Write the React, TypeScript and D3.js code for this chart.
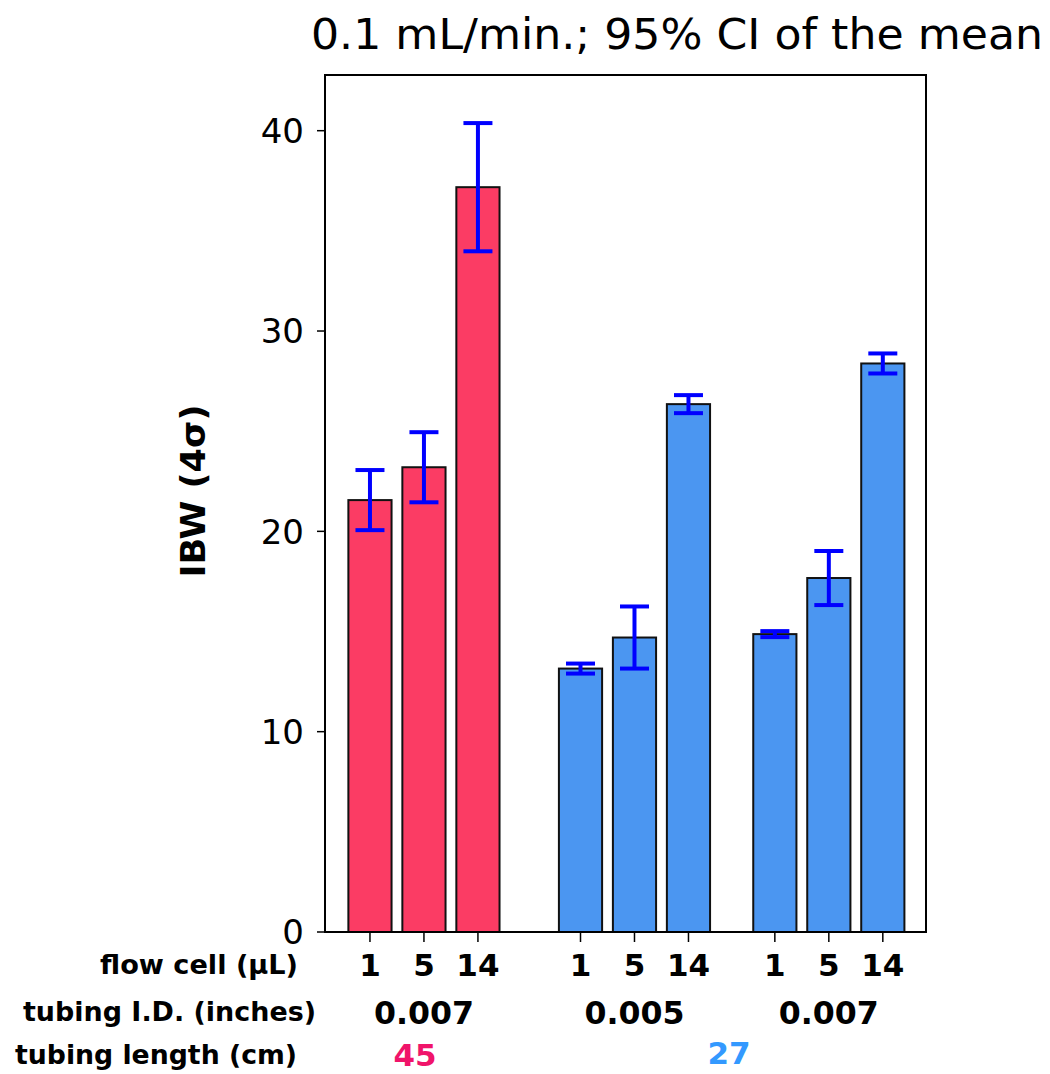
import React from "react";
import * as d3 from "d3";

// flow cell volumes (µL) per group
const flowCells = ["1", "5", "14"];
const tubingIDs = ["0.007", "0.005", "0.007"];
const tubingLengths = ["45", "27"];

// IBW (4σ) means and 95% CI half widths, one array per group
const means = [
  [21.56, 23.2, 37.18],
  [13.15, 14.7, 26.35],
  [14.87, 17.67, 28.38],
];
const ciHalf = [
  [1.5, 1.75, 3.2],
  [0.25, 1.55, 0.45],
  [0.15, 1.35, 0.5],
];
const yTicks = [0, 10, 20, 30, 40];

const title = "0.1 mL/min.; 95% CI of the mean";
const yLabel = "IBW (4σ)";

const groupColors = ["#fb3c64", "#4b96f1", "#4b96f1"];
const lengthColors = ["#f0146a", "#3399ff"];
// where each group starts along the x slot axis (groups are not evenly spaced)
const groupStart = [0, 3.9, 7.5];

const width = 1050;
const height = 1074;
const plot = { left: 325, right: 926, top: 75, bottom: 932 };
const font = "'DejaVu Sans', Verdana, sans-serif";

const App = () => {
  const x = d3.scaleLinear().domain([-0.833, 10.3]).range([plot.left, plot.right]);
  const y = d3.scaleLinear().domain([0, 42.78]).range([plot.bottom, plot.top]);
  const barW = x(0.8) - x(0);
  const capW = 29;

  const bars = means.flatMap((grp, g) =>
    grp.map((v, i) => ({
      g,
      i,
      v,
      ci: ciHalf[g][i],
      pos: groupStart[g] + i,
    }))
  );

  const groupCenter = (g) => x(groupStart[g] + 1);

  return (
    <svg
      width={width}
      height={height}
      style={{ position: "absolute", left: 0, top: 0, background: "#fff" }}
      fontFamily={font}
    >
      <text x={1043} y={49} textAnchor="end" fontSize={43} fill="#000" textLength={732} lengthAdjust="spacingAndGlyphs">
        {title}
      </text>

      {/* bars */}
      {bars.map((d) => (
        <rect
          key={`b${d.g}-${d.i}`}
          x={x(d.pos) - barW / 2}
          y={y(d.v)}
          width={barW}
          height={y(0) - y(d.v)}
          fill={groupColors[d.g]}
          stroke="#111"
          strokeWidth={2}
        />
      ))}

      {/* error bars */}
      {bars.map((d) => {
        const cx = x(d.pos);
        const hi = y(d.v + d.ci);
        const lo = y(d.v - d.ci);
        return (
          <g key={`e${d.g}-${d.i}`} stroke="#0000ff" strokeWidth={4}>
            <line x1={cx} x2={cx} y1={hi} y2={lo} />
            <line x1={cx - capW / 2} x2={cx + capW / 2} y1={hi} y2={hi} />
            <line x1={cx - capW / 2} x2={cx + capW / 2} y1={lo} y2={lo} />
          </g>
        );
      })}

      {/* frame */}
      <rect
        x={plot.left}
        y={plot.top}
        width={plot.right - plot.left}
        height={plot.bottom - plot.top}
        fill="none"
        stroke="#000"
        strokeWidth={2}
      />

      {/* y axis ticks */}
      {yTicks.map((t) => (
        <g key={`yt${t}`}>
          <line x1={plot.left - 8} x2={plot.left} y1={y(t)} y2={y(t)} stroke="#000" strokeWidth={1.5} />
          <text x={304} y={y(t)} dy="0.36em" textAnchor="end" fontSize={34} fill="#000">
            {t}
          </text>
        </g>
      ))}

      <text
        transform={`translate(205,${491}) rotate(-90)`}
        textAnchor="middle"
        fontSize={33}
        fontWeight="bold"
        fill="#000"
        textLength={173}
        lengthAdjust="spacingAndGlyphs"
      >
        {yLabel}
      </text>

      {/* x ticks and flow cell labels */}
      {bars.map((d) => (
        <g key={`xt${d.g}-${d.i}`}>
          <line x1={x(d.pos)} x2={x(d.pos)} y1={plot.bottom} y2={plot.bottom + 10} stroke="#000" strokeWidth={1.5} />
          <text x={x(d.pos)} y={976} textAnchor="middle" fontSize={31} fontWeight="bold" fill="#000">
            {flowCells[d.i]}
          </text>
        </g>
      ))}

      <text x={298} y={974} textAnchor="end" fontSize={26} fontWeight="bold" fill="#000" textLength={198} lengthAdjust="spacingAndGlyphs">
        flow cell (µL)
      </text>
      <text x={316} y={1021} textAnchor="end" fontSize={26} fontWeight="bold" fill="#000" textLength={293} lengthAdjust="spacingAndGlyphs">
        tubing I.D. (inches)
      </text>
      <text x={297} y={1064} textAnchor="end" fontSize={26} fontWeight="bold" fill="#000" textLength={282} lengthAdjust="spacingAndGlyphs">
        tubing length (cm)
      </text>

      {tubingIDs.map((t, g) => (
        <text key={`id${g}`} x={groupCenter(g)} y={1024} textAnchor="middle" fontSize={32} fontWeight="bold" fill="#000" textLength={100} lengthAdjust="spacingAndGlyphs">
          {t}
        </text>
      ))}

      <text x={415} y={1066} textAnchor="middle" fontSize={31} fontWeight="bold" fill={lengthColors[0]}>
        {tubingLengths[0]}
      </text>
      <text x={729} y={1064} textAnchor="middle" fontSize={31} fontWeight="bold" fill={lengthColors[1]}>
        {tubingLengths[1]}
      </text>
    </svg>
  );
};

export default App;
